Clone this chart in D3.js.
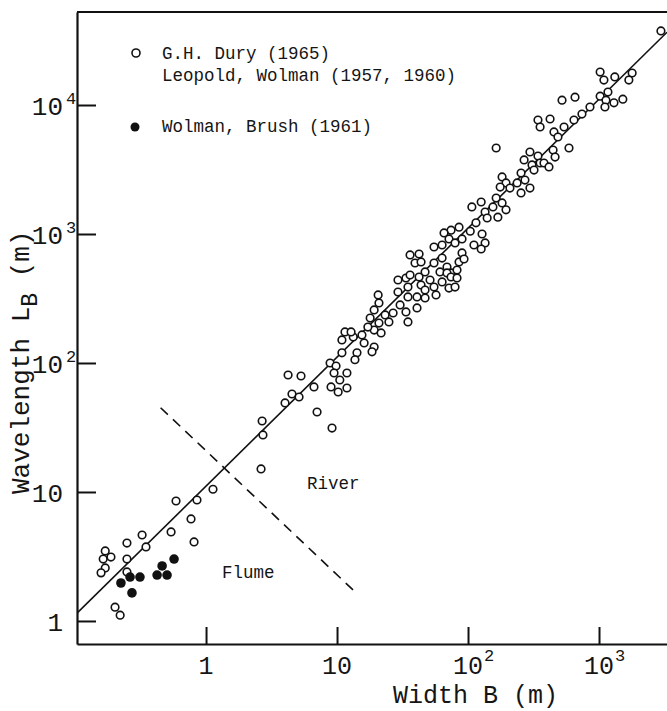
<!DOCTYPE html>
<html>
<head>
<meta charset="utf-8">
<script src="https://cdn.jsdelivr.net/npm/d3@7"></script>
<style>
  html, body { margin: 0; padding: 0; background: #fff; }
  svg { display: block; }
  text { font-family: "Liberation Mono", "Courier New", monospace; fill: #151515; }
</style>
</head>
<body>
<svg id="chart" width="667" height="711"></svg>
<script>
// Open circles: G.H. Dury (1965); Leopold, Wolman (1957, 1960)
const openWidth = [
  2970, 1020, 1090, 1320, 1790, 1690, 522, 656, 1020, 1170, 1130, 1300, 1520, 1110, 853, 741,
  644, 423, 541, 342, 355, 453, 486, 590, 164, 446, 462, 297, 342, 268, 355, 308, 380, 319,
  415, 254, 182, 195, 176, 237, 209, 272, 297, 254, 126, 164, 155, 107, 135, 182, 195, 169,
  140, 115, 85.4, 74.2, 104, 65.6, 128, 71.6, 90.0, 63.4, 79.6, 55.0, 135, 111, 126,
  36.1, 42.3, 39.4, 43.8, 47.0, 55.0, 63.4, 69.1, 74.2, 85.4, 90.0, 82.4, 93.2,
  29.2, 33.6, 29.2, 34.8, 36.1, 42.3, 43.8, 51.3, 47.0, 55.0, 63.4, 61.1, 69.1, 71.6, 74.2,
  82.4, 79.6, 57.0, 40.8, 47.0, 34.8, 30.3, 33.6, 40.8, 34.8,
  20.6, 20.9, 19.2, 23.3, 26.8, 24.9, 17.9, 20.9, 19.2, 17.2, 21.7, 15.5, 13.3, 16.1, 14.2,
  19.2, 18.5, 13.7, 11.5, 12.8, 10.9, 10.9,
  8.85, 9.83, 9.49, 11.9, 10.5, 9.0, 10.2, 11.9, 6.67, 7.04, 9.16,
  4.23, 5.31, 4.53, 5.13, 4.01, 2.68, 2.72, 2.63,
  1.13, 0.853, 0.590, 0.768, 0.541, 0.810, 0.325, 0.348, 0.249, 0.249, 0.249,
  0.170, 0.164, 0.188, 0.170, 0.158, 0.202, 0.221
];
const openWavelength = [
  37500, 18000, 15600, 16500, 17700, 15600, 10900, 11500, 11700, 12600, 10900, 10400, 11100, 9650, 9650, 8510,
  7650, 7790, 6750, 7650, 6750, 6180, 5650, 4640, 4640, 4480, 3950, 4320, 4020, 3750, 3550, 3430, 3550, 3130,
  3310, 2970, 2770, 2490, 2310, 2490, 2270, 2620, 2270, 2080, 1770, 1900, 1620, 1620, 1480, 1740, 1540, 1350,
  1330, 1220, 1130, 1070, 1050, 1020, 1000, 915, 915, 822, 852, 793, 852, 822, 765,
  688, 700, 596, 607, 508, 596, 651, 555, 499, 607, 713, 526, 640,
  440, 456, 355, 388, 481, 464, 403, 440, 368, 388, 425, 508, 499, 381, 464,
  456, 388, 337, 325, 319, 325, 282, 249, 267, 208,
  337, 292, 258, 236, 244, 208, 223, 204, 180, 190, 171, 165, 159, 143, 120,
  133, 122, 106, 174, 174, 151, 120,
  100, 94.8, 83.6, 83.6, 73.8, 65.2, 59.6, 64.0, 65.2, 41.7, 31.3,
  80.7, 79.3, 57.5, 54.5, 49.0, 35.5, 27.7, 15.1,
  10.5, 8.67, 8.51, 6.18, 4.90, 4.10, 4.64, 3.75, 4.02, 3.02, 2.40,
  3.49, 3.02, 3.13, 2.58, 2.36, 1.28, 1.11
];

// Filled circles: Wolman, Brush (1961)
const filledWidth = [0.224, 0.272, 0.263, 0.313, 0.423, 0.462, 0.504, 0.570];
const filledWavelength = [1.97, 1.65, 2.19, 2.19, 2.27, 2.67, 2.27, 3.02];

// Fitted relation L_B = k * B
const fitCoefficient = 11.1;

// Dividing line between flume and river regimes
const boundaryWidth = [0.45, 14];
const boundaryWavelength = [45, 1.65];

const xTickValues = [1, 10, 100, 1000];
const yTickValues = [1, 10, 100, 1000, 10000];

const legendLabels = [
  ["G.H. Dury (1965)", "Leopold, Wolman (1957, 1960)"],
  ["Wolman, Brush (1961)"]
];
const regionLabels = ["River", "Flume"];

const svg = d3.select("#chart");

const x = d3.scaleLog().domain([0.1035, 3304]).range([77, 667]);
const y = d3.scaleLog().domain([0.663, 52600]).range([644, 12]);

const plotLeft = x.range()[0], plotRight = x.range()[1];
const plotTop = y.range()[1], plotBottom = y.range()[0];

svg.append("defs").append("clipPath").attr("id", "plot-clip")
  .append("rect")
  .attr("x", plotLeft).attr("y", plotTop)
  .attr("width", plotRight - plotLeft).attr("height", plotBottom - plotTop);

// Frame top edge
svg.append("line")
  .attr("x1", plotLeft).attr("x2", plotRight)
  .attr("y1", plotTop).attr("y2", plotTop)
  .attr("stroke", "#111").attr("stroke-width", 2.2);

// Axes with inward ticks
const xAxis = svg.append("g")
  .attr("transform", `translate(0,${plotBottom})`)
  .call(d3.axisBottom(x).tickValues(xTickValues).tickSizeInner(-17).tickSizeOuter(0).tickFormat(() => ""));
const yAxis = svg.append("g")
  .attr("transform", `translate(${plotLeft},0)`)
  .call(d3.axisLeft(y).tickValues(yTickValues).tickSizeInner(-19).tickSizeOuter(0).tickFormat(() => ""));
[xAxis, yAxis].forEach(g => {
  g.select(".domain").attr("stroke", "#111").attr("stroke-width", 2.2);
  g.selectAll(".tick line").attr("stroke", "#111").attr("stroke-width", 2);
});

// Tick labels with powers of ten
function powerParts(v) {
  const e = Math.round(Math.log10(v));
  if (e === 0) return ["1", ""];
  if (e === 1) return ["10", ""];
  return ["10", String(e)];
}

xTickValues.forEach(v => {
  const [base, sup] = powerParts(v);
  const px = x(v);
  svg.append("text")
    .attr("x", px).attr("y", 674)
    .attr("text-anchor", "middle")
    .attr("font-size", 25)
    .text(base);
  if (sup) {
    svg.append("text")
      .attr("x", px + 16).attr("y", 661)
      .attr("font-size", 17)
      .text(sup);
  }
});

yTickValues.forEach(v => {
  const [base, sup] = powerParts(v);
  const py = y(v);
  svg.append("text")
    .attr("x", 63).attr("y", py + 10)
    .attr("text-anchor", "end")
    .attr("font-size", 26)
    .text(base);
  if (sup) {
    svg.append("text")
      .attr("x", 66).attr("y", py - 1)
      .attr("font-size", 17)
      .text(sup);
  }
});

// Axis titles
svg.append("text")
  .attr("x", 393).attr("y", 703)
  .attr("font-size", 25)
  .text("Width B (m)");

const yTitle = svg.append("text")
  .attr("transform", "translate(29,494) rotate(-90)")
  .attr("font-size", 26);
yTitle.append("tspan").text("Wavelength L");
yTitle.append("tspan").attr("dy", 8).attr("font-size", 23).text("B");
yTitle.append("tspan").attr("dy", -8).text(" (m)");

const plot = svg.append("g").attr("clip-path", "url(#plot-clip)");

// Fitted line across the full width range
const fitLine = x.domain().map(b => [b, fitCoefficient * b]);
plot.append("path")
  .datum(fitLine)
  .attr("d", d3.line().x(d => x(d[0])).y(d => y(d[1])))
  .attr("fill", "none").attr("stroke", "#111").attr("stroke-width", 1.6);

// Flume / river dividing line
plot.append("path")
  .datum(boundaryWidth.map((b, i) => [b, boundaryWavelength[i]]))
  .attr("d", d3.line().x(d => x(d[0])).y(d => y(d[1])))
  .attr("fill", "none").attr("stroke", "#111").attr("stroke-width", 1.6)
  .attr("stroke-dasharray", "10,7");

// Data points
plot.selectAll("circle.open")
  .data(openWidth.map((b, i) => [b, openWavelength[i]]))
  .join("circle")
  .attr("class", "open")
  .attr("cx", d => x(d[0])).attr("cy", d => y(d[1]))
  .attr("r", 3.8)
  .attr("fill", "#fff").attr("stroke", "#111").attr("stroke-width", 1.6);

plot.selectAll("circle.filled")
  .data(filledWidth.map((b, i) => [b, filledWavelength[i]]))
  .join("circle")
  .attr("class", "filled")
  .attr("cx", d => x(d[0])).attr("cy", d => y(d[1]))
  .attr("r", 4.8)
  .attr("fill", "#111");

// Region labels
svg.append("text").attr("x", 307).attr("y", 489).attr("font-size", 17.5).text(regionLabels[0]);
svg.append("text").attr("x", 222).attr("y", 578).attr("font-size", 17.5).text(regionLabels[1]);

// Legend
const legend = svg.append("g");
legend.append("circle").attr("cx", 136).attr("cy", 53).attr("r", 4)
  .attr("fill", "#fff").attr("stroke", "#111").attr("stroke-width", 1.6);
legend.append("text").attr("x", 162).attr("y", 59).attr("font-size", 17.5).text(legendLabels[0][0]);
legend.append("text").attr("x", 162).attr("y", 81).attr("font-size", 17.5).text(legendLabels[0][1]);
legend.append("circle").attr("cx", 135).attr("cy", 127).attr("r", 4.5).attr("fill", "#111");
legend.append("text").attr("x", 162).attr("y", 132).attr("font-size", 17.5).text(legendLabels[1][0]);
</script>
</body>
</html>
